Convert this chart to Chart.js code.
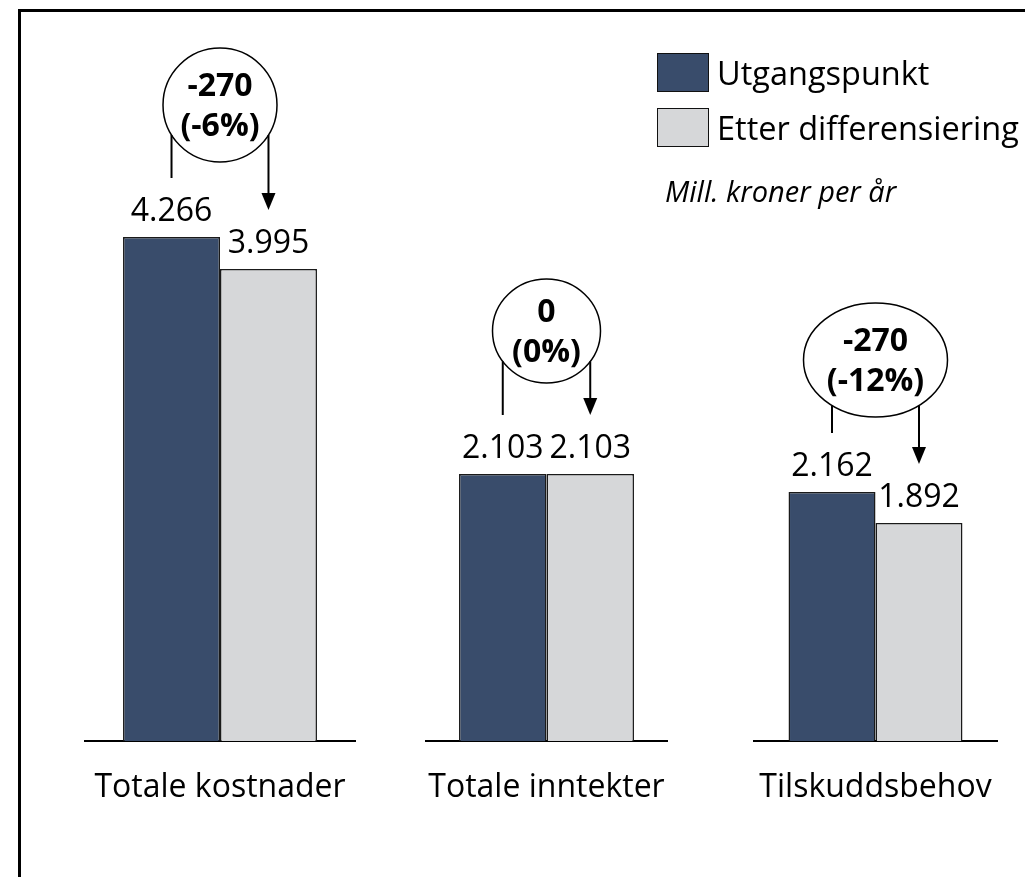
<!DOCTYPE html>
<html>
<head>
<meta charset="utf-8">
<script src="https://cdn.jsdelivr.net/npm/chart.js"></script>
<style>
  html, body { margin: 0; padding: 0; background: #fff; }
  body { width: 1025px; height: 877px; position: relative; overflow: hidden; font-family: "Open Sans", sans-serif; }
  #frame { position: absolute; left: 18px; top: 9px; width: 1100px; height: 1000px; border-left: 3px solid #000; border-top: 3px solid #000; }
  canvas.part { position: absolute; top: 0; }
  .legItem { position: absolute; left: 657px; height: 40px; }
  .legItem .box { position: absolute; left: 0; top: 0; width: 50px; height: 37px; border: 1.5px solid #111; }
  .legItem .txt { position: absolute; left: 60px; top: 0; font-size: 32.5px; line-height: 40px; white-space: nowrap; color: #000; }
  #unit { position: absolute; left: 665px; top: 174px; font-size: 29px; line-height: 34px; font-style: italic; white-space: nowrap; }
</style>
</head>
<body>
<div id="frame"></div>
<canvas id="c0" class="part"></canvas>
<canvas id="c1" class="part"></canvas>
<canvas id="c2" class="part"></canvas>
<div id="legend"></div>
<div id="unit">Mill. kroner per år</div>

<script>
const categories = ["Totale kostnader", "Totale inntekter", "Tilskuddsbehov"];
const seriesNames = ["Utgangspunkt", "Etter differensiering"];
const utgangspunkt = [4266, 2103, 2162];
const etterDifferensiering = [3995, 2103, 1892];
const changeText = [["-270", "(-6%)"], ["0", "(0%)"], ["-270", "(-12%)"]];

const colors = ["#394c6b", "#d6d7d9"];

// each group is its own little chart (they don't share a scale in the original)
const parts = [
  { left: 84, width: 272, yMax: 6272, catPct: 0.713, circle: { dy: 132, rx: 57, ry: 57 } },
  { left: 425, width: 243, yMax: 5836, catPct: 0.72, circle: { dy: 143, rx: 54, ry: 52 } },
  { left: 753, width: 245, yMax: 6434, catPct: 0.71, circle: { dy: 132, rx: 72, ry: 57 } }
];

const FONT = '"Open Sans", sans-serif';

function fmt(v) {
  return (v / 1000).toFixed(3);
}

// legend
const legend = document.getElementById("legend");
seriesNames.forEach((name, i) => {
  const item = document.createElement("div");
  item.className = "legItem";
  item.style.top = (53 + i * 55) + "px";
  item.innerHTML = `<div class="box" style="background:${colors[i]}"></div><div class="txt">${name}</div>`;
  legend.appendChild(item);
});

function ellipseY(cx, cy, rx, ry, x) {
  const dx = (x - cx) / rx;
  return cy + ry * Math.sqrt(Math.max(0, 1 - dx * dx));
}

function makeOverlay(idx) {
  return {
    id: "overlay" + idx,
    afterDatasetsDraw(chart) {
      const ctx = chart.ctx;
      const area = chart.chartArea;
      const a = chart.getDatasetMeta(0).data[0];
      const b = chart.getDatasetMeta(1).data[0];
      const vals = [utgangspunkt[idx], etterDifferensiering[idx]];
      ctx.save();
      ctx.fillStyle = "#000";
      ctx.textAlign = "center";
      ctx.textBaseline = "alphabetic";

      // value labels
      ctx.font = "32px " + FONT;
      [a, b].forEach((bar, k) => {
        ctx.fillText(fmt(vals[k]), bar.x, bar.y - 16);
      });

      // category label
      ctx.fillText(categories[idx], (a.x + b.x) / 2, area.bottom + 56);

      // change bubble
      const c = parts[idx].circle;
      const cx = (a.x + b.x) / 2;
      const cy = a.y - c.dy;
      ctx.strokeStyle = "#000";
      ctx.lineWidth = 1.5;
      ctx.beginPath();
      ctx.ellipse(cx, cy, c.rx, c.ry, 0, 0, Math.PI * 2);
      ctx.stroke();
      ctx.font = "bold 32px " + FONT;
      ctx.fillText(changeText[idx][0], cx, cy - 9);
      ctx.fillText(changeText[idx][1], cx, cy + 31);

      // bracket: plain line from first bar, arrow down to second bar
      ctx.lineWidth = 2;
      ctx.beginPath();
      ctx.moveTo(a.x, ellipseY(cx, cy, c.rx, c.ry, a.x));
      ctx.lineTo(a.x, a.y - 59);
      ctx.stroke();

      const tip = b.y - 59;
      ctx.beginPath();
      ctx.moveTo(b.x, ellipseY(cx, cy, c.rx, c.ry, b.x));
      ctx.lineTo(b.x, tip - 14);
      ctx.stroke();
      ctx.beginPath();
      ctx.moveTo(b.x - 7, tip - 17);
      ctx.lineTo(b.x + 7, tip - 17);
      ctx.lineTo(b.x, tip);
      ctx.closePath();
      ctx.fill();
      ctx.restore();
    }
  };
}

parts.forEach((p, i) => {
  const cv = document.getElementById("c" + i);
  cv.width = p.width;
  cv.height = 820;
  cv.style.left = p.left + "px";

  new Chart(cv, {
    type: "bar",
    data: {
      labels: [categories[i]],
      datasets: [
        { label: seriesNames[0], data: [utgangspunkt[i]], backgroundColor: colors[0] },
        { label: seriesNames[1], data: [etterDifferensiering[i]], backgroundColor: colors[1] }
      ]
    },
    options: {
      responsive: false,
      animation: false,
      layout: { padding: { top: 0, bottom: 79, left: 0, right: 0 } },
      datasets: {
        bar: {
          barPercentage: 1,
          categoryPercentage: p.catPct,
          borderColor: "#1a1a1a",
          borderWidth: 1.5
        }
      },
      scales: {
        x: {
          grid: { display: false, drawTicks: false },
          ticks: { display: false },
          border: { display: true, color: "#000", width: 2 }
        },
        y: { display: false, min: 0, max: p.yMax }
      },
      plugins: {
        legend: { display: false },
        tooltip: { enabled: false }
      }
    },
    plugins: [makeOverlay(i)]
  });
});
</script>
</body>
</html>
